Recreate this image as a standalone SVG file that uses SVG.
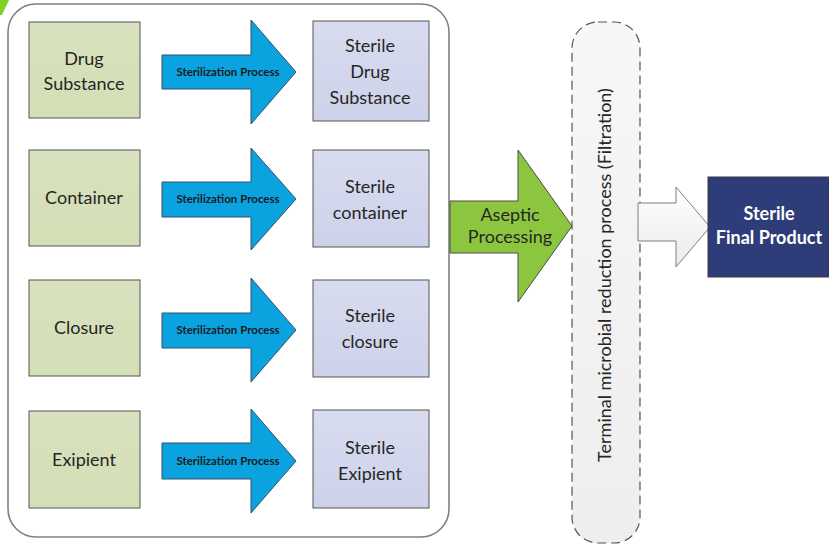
<svg xmlns="http://www.w3.org/2000/svg" width="829" height="544" viewBox="0 0 829 544">
<style>
.lbox{fill:url(#gl);stroke:#555;stroke-width:1}
.rbox{fill:url(#gr);stroke:#555;stroke-width:1}
.barrow{fill:#0aa3e0;stroke:#35506a;stroke-width:1}
.t{font-family:Lato,"Open Sans","Liberation Sans",sans-serif;font-size:18px;fill:#262626;text-anchor:middle}
.ts{font-family:Lato,"Open Sans","Liberation Sans",sans-serif;font-size:11.5px;font-weight:bold;fill:#1a1a1a;text-anchor:middle}
</style>
<defs>
<linearGradient id="gl" x1="0" y1="0" x2="0" y2="1"><stop offset="0" stop-color="#d8e2bf"/><stop offset="1" stop-color="#d3dfb5"/></linearGradient>
<linearGradient id="gr" x1="0" y1="0" x2="0" y2="1"><stop offset="0" stop-color="#d9dcf0"/><stop offset="1" stop-color="#cdd2ea"/></linearGradient>
<linearGradient id="gd" x1="0" y1="0" x2="0" y2="1"><stop offset="0" stop-color="#f7f7f7"/><stop offset="1" stop-color="#eeeeee"/></linearGradient>
<linearGradient id="gw" x1="0" y1="0" x2="0" y2="1"><stop offset="0" stop-color="#ffffff"/><stop offset="1" stop-color="#ebebeb"/></linearGradient>
</defs>
<rect width="829" height="544" fill="#ffffff"/>
<polygon points="0,0 9,0 2,15 0,15" fill="#7dd321"/>
<rect id="container" x="8" y="4" width="441" height="533" rx="28" fill="#ffffff" stroke="#808080" stroke-width="1.6"/>
<g id="filtration">
<rect x="572" y="22" width="68" height="521" rx="26" fill="url(#gd)" stroke="#555" stroke-width="1.2" stroke-dasharray="9,5"/>
<text class="t" font-size="15" transform="translate(611,275) rotate(-90)">Terminal microbial reduction process (Filtration)</text>
</g>
<g id="connectors">
<polygon class="barrow" points="162,55 251,55 251,20 296,72 251,124 251,89 162,89"/>
<polygon class="barrow" points="162,182 251,182 251,148 296,199 251,250 251,217 162,217"/>
<polygon class="barrow" points="162,313 251,313 251,278 296,330 251,382 251,348 162,348"/>
<polygon class="barrow" points="162,443 251,443 251,409 296,461 251,513 251,479 162,479"/>
<polygon points="450,201 518,201 518,150 572,226 518,302 518,253 450,253" fill="#8cc63f" stroke="#4a4a4a" stroke-width="1"/>
<polygon points="638,203 676,203 676,187 710,227 676,267 676,241 638,241" fill="url(#gw)" stroke="#7f7f7f" stroke-width="1"/>
<text class="ts" x="228" y="76">Sterilization Process</text>
<text class="ts" x="228" y="203">Sterilization Process</text>
<text class="ts" x="228" y="334">Sterilization Process</text>
<text class="ts" x="228" y="465">Sterilization Process</text>
<text class="t" x="510" y="221" font-size="16">Aseptic</text>
<text class="t" x="510" y="243" font-size="16">Processing</text>
</g>
<g id="drug"><rect class="lbox" x="29" y="22" width="111" height="96"/><text class="t" x="84" y="65">Drug</text><text class="t" x="84" y="90">Substance</text></g>
<g id="containerbox"><rect class="lbox" x="29" y="150" width="111" height="96"/><text class="t" x="84" y="204">Container</text></g>
<g id="closure"><rect class="lbox" x="29" y="280" width="111" height="96"/><text class="t" x="84" y="334">Closure</text></g>
<g id="exipient"><rect class="lbox" x="29" y="411" width="111" height="97"/><text class="t" x="84" y="466">Exipient</text></g>
<g id="sdrug"><rect class="rbox" x="313" y="21" width="116" height="100"/><text class="t" x="370" y="52">Sterile</text><text class="t" x="370" y="78">Drug</text><text class="t" x="370" y="104">Substance</text></g>
<g id="scontainer"><rect class="rbox" x="313" y="150" width="116" height="97"/><text class="t" x="370" y="193">Sterile</text><text class="t" x="370" y="219">container</text></g>
<g id="sclosure"><rect class="rbox" x="313" y="280" width="116" height="97"/><text class="t" x="370" y="322">Sterile</text><text class="t" x="370" y="348">closure</text></g>
<g id="sexipient"><rect class="rbox" x="313" y="410" width="116" height="98"/><text class="t" x="370" y="454">Sterile</text><text class="t" x="370" y="480">Exipient</text></g>
<g id="final"><rect x="708" y="177" width="121" height="100" fill="#2e3d7a" stroke="#3a3a3a" stroke-width="1"/><text class="t" x="769" y="220" font-size="14" font-weight="bold" style="fill:#fff">Sterile</text><text class="t" x="769" y="244" font-size="14" font-weight="bold" style="fill:#fff">Final Product</text></g>
</svg>
